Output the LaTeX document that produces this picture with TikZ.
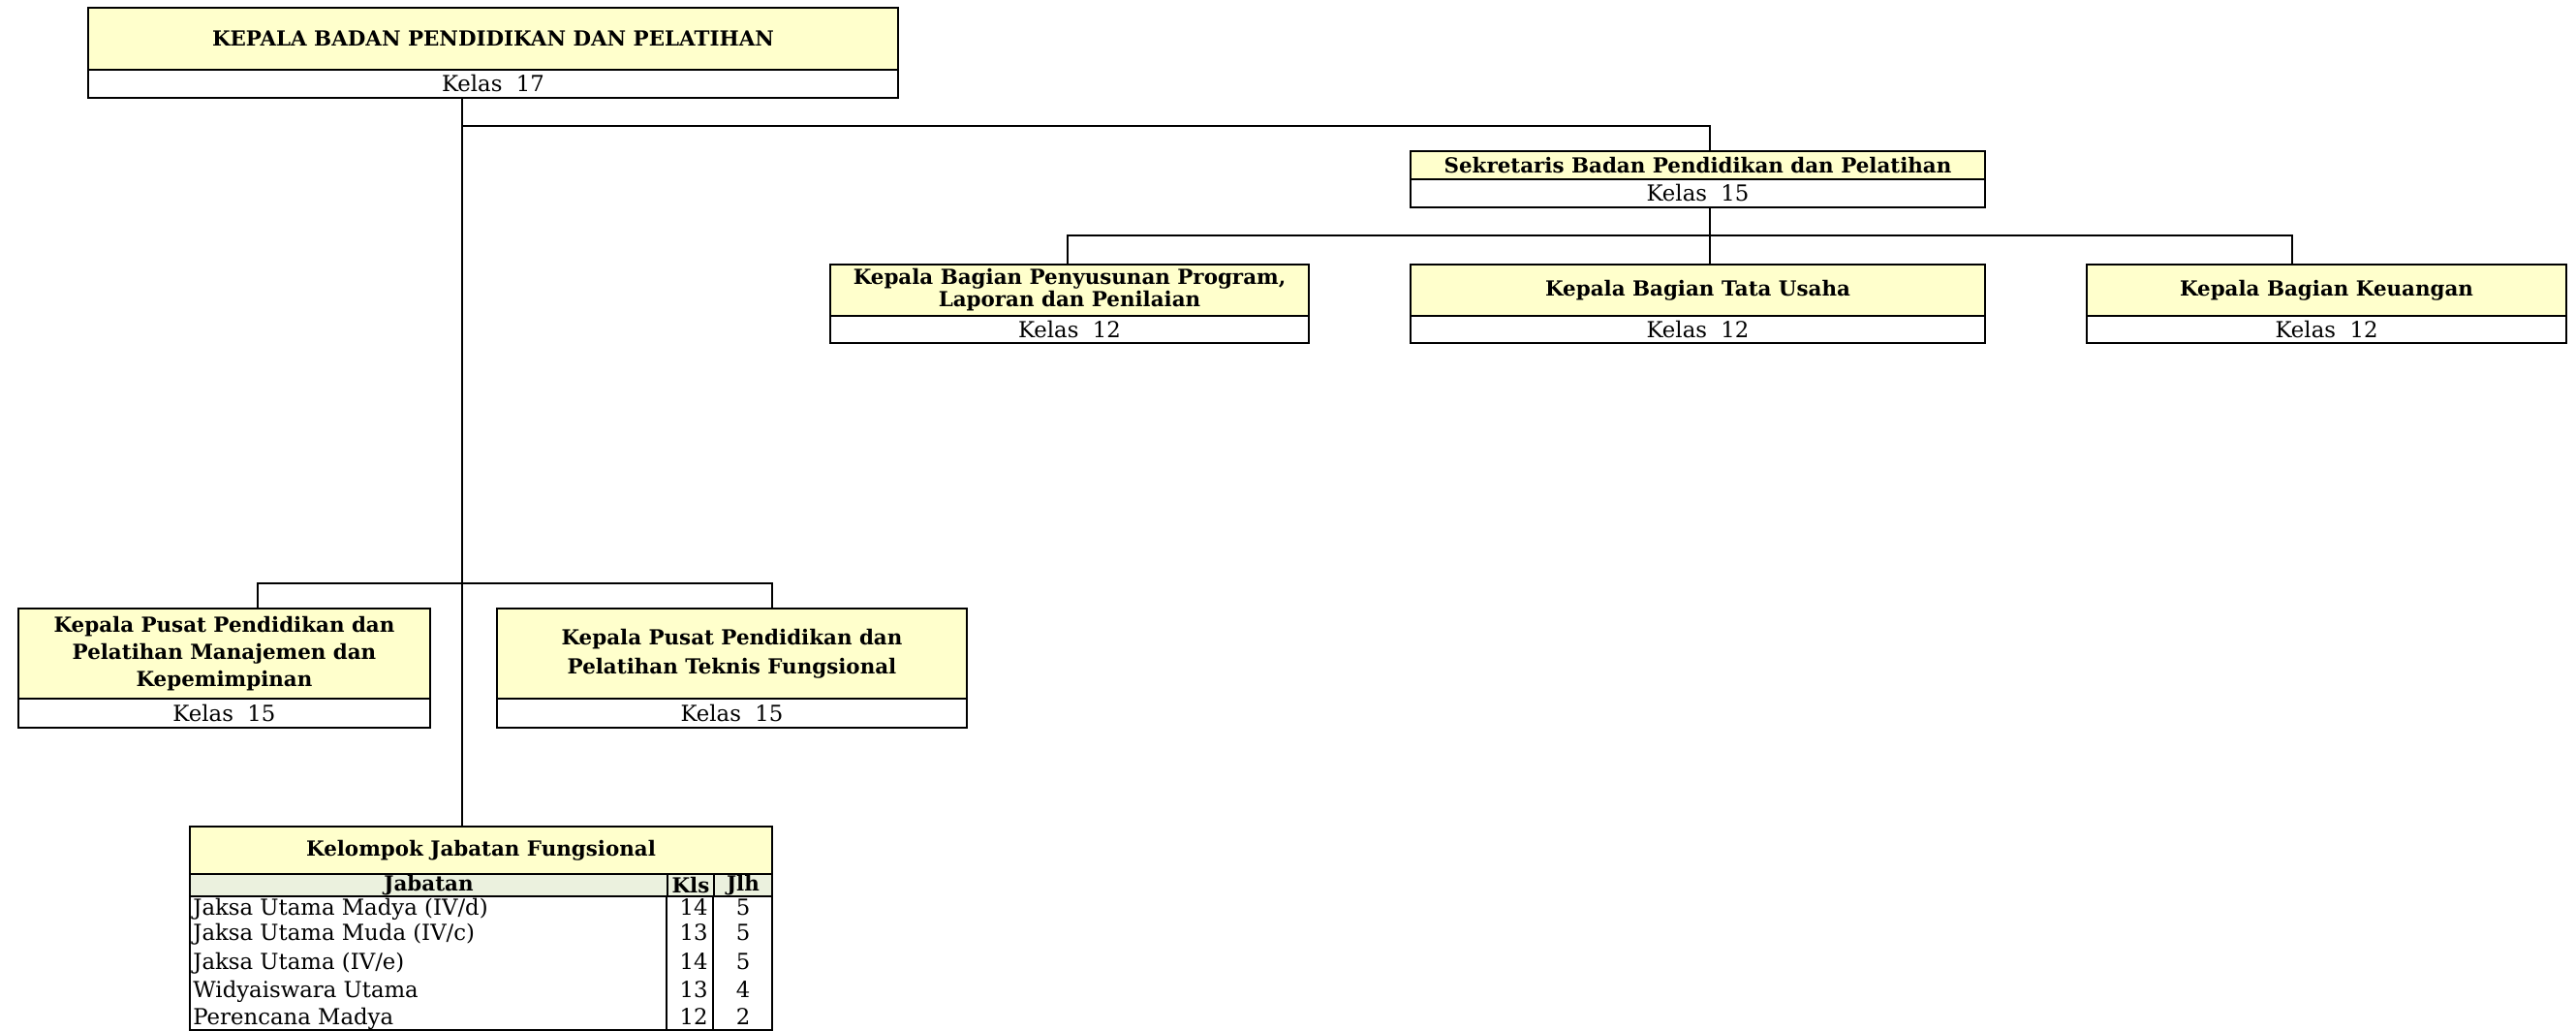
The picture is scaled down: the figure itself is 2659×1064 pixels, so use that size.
\documentclass[tikz,border=0pt]{standalone}
\usepackage{fontspec}
\setmainfont{DejaVu Serif}
\definecolor{titleyellow}{HTML}{FFFFCC}
\definecolor{headgreen}{HTML}{EBF1DE}
\tikzset{
  boxline/.style={draw=black, line width=1pt},
  tbox/.style={boxline, fill=titleyellow, inner sep=0pt, align=center, font=\bfseries\fontsize{10.7}{10.2}\selectfont},
  kbox/.style={boxline, fill=white, inner sep=0pt, font=\fontsize{11.4}{12}\selectfont},
  hbox/.style={boxline, fill=headgreen, inner sep=0pt, font=\bfseries\fontsize{10.7}{12}\selectfont},
  conn/.style={draw=black, line width=0.85pt},
  rowtxt/.style={inner sep=0pt, font=\fontsize{11.4}{12}\selectfont}
}
\newcommand\orgbox[9]{%
  \node[tbox, minimum width={(#4-#2)*0.5pt}, minimum height={(#5-#3)*0.5pt}, anchor=north west, #9] (#1) at (#2,#3) {#7};
  \node[kbox, minimum width={(#4-#2)*0.5pt}, minimum height={(#6-#5)*0.5pt}, anchor=north west] (#1k) at (#2,#5) {#8};
}
\begin{document}
\begin{tikzpicture}[x=0.5pt,y=-0.5pt]
\useasboundingbox[fill=white] (0,0) rectangle (2659,1064);

\coordinate (j1) at (477,130);
\coordinate (s1) at (1765,130);
\coordinate (s2) at (1765,243);
\coordinate (l3a) at (1102,243);
\coordinate (l3c) at (2366,243);
\coordinate (p1) at (266,602);
\coordinate (p2) at (797,602);

\orgbox{top}{90}{7}{926}{71}{100}{KEPALA BADAN PENDIDIKAN DAN PELATIHAN}{Kelas~~17}{}
\orgbox{sek}{1455}{155}{2048}{184}{213}{Sekretaris Badan Pendidikan dan Pelatihan}{Kelas~~15}{}
\orgbox{kbp}{856}{272}{1350}{325}{353}{Kepala Bagian Penyusunan Program,\\Laporan dan Penilaian}{Kelas~~12}{}
\orgbox{tu}{1455}{272}{2048}{325}{353}{Kepala Bagian Tata Usaha}{Kelas~~12}{}
\orgbox{keu}{2153}{272}{2648}{325}{353}{Kepala Bagian Keuangan}{Kelas~~12}{}
\orgbox{pm1}{18}{627}{443}{720}{750}{Kepala Pusat Pendidikan dan\\Pelatihan Manajemen dan\\Kepemimpinan}{Kelas~~15}{font=\bfseries\fontsize{10.7}{14}\selectfont}
\orgbox{pm2}{512}{627}{997}{720}{750}{Kepala Pusat Pendidikan dan\\Pelatihan Teknis Fungsional}{Kelas~~15}{font=\bfseries\fontsize{10.7}{15}\selectfont}

% table
\node[tbox, minimum width={(796-195)*0.5pt}, minimum height={(901-852)*0.5pt}, anchor=north west] (kjf) at (195,852) {Kelompok Jabatan Fungsional};
\node[hbox, minimum width={(688-195)*0.5pt}, minimum height={(924-901)*0.5pt}, anchor=north west] (hj) at (195,901) {Jabatan};
\node[hbox, minimum width={(736-688)*0.5pt}, minimum height={(924-901)*0.5pt}, anchor=north west] (hk) at (688,901) {Kls};
\node[hbox, minimum width={(796-736)*0.5pt}, minimum height={(924-901)*0.5pt}, anchor=north west] (hl) at (736,901) {Jlh};
\node[boxline, inner sep=0pt, minimum width={(796-195)*0.5pt}, minimum height={(1062-924)*0.5pt}, anchor=north west] (kb) at (195,924) {};
\draw[boxline] (hk.south west) -- (hk.south west |- kb.south);
\draw[boxline] (hl.south west) -- (hl.south west |- kb.south);

\node[rowtxt, anchor=base west] (r1) at (199,944) {Jaksa Utama Madya (IV/d)};
\node[rowtxt, anchor=base west] (r2) at (199,970) {Jaksa Utama Muda (IV/c)};
\node[rowtxt, anchor=base west] (r3) at (199,1000) {Jaksa Utama (IV/e)};
\node[rowtxt, anchor=base west] (r4) at (199,1029) {Widyaiswara Utama};
\node[rowtxt, anchor=base west] (r5) at (199,1057) {Perencana Madya};
\node[rowtxt, anchor=base east] (k1) at (731,944) {14};
\node[rowtxt, anchor=base east] (k2) at (731,970) {13};
\node[rowtxt, anchor=base east] (k3) at (731,1000) {14};
\node[rowtxt, anchor=base east] (k4) at (731,1029) {13};
\node[rowtxt, anchor=base east] (k5) at (731,1057) {12};
\node[rowtxt, anchor=base] (n1) at (767,944) {5};
\node[rowtxt, anchor=base] (n2) at (767,970) {5};
\node[rowtxt, anchor=base] (n3) at (767,1000) {5};
\node[rowtxt, anchor=base] (n4) at (767,1029) {4};
\node[rowtxt, anchor=base] (n5) at (767,1057) {2};

% connectors
\draw[conn] (topk.south -| j1) -- (kjf.north -| j1);
\draw[conn] (j1) -- (s1) -- (sek.north -| s1);
\draw[conn] (sekk.south -| s2) -- (tu.north -| s2);
\draw[conn] (l3a |- kbp.north) -- (l3a) -- (l3c) -- (l3c |- keu.north);
\draw[conn] (p1 |- pm1.north) -- (p1) -- (p2) -- (p2 |- pm2.north);
\end{tikzpicture}
\end{document}
